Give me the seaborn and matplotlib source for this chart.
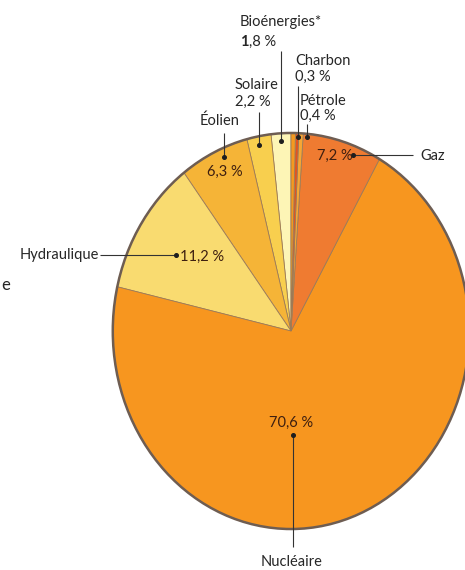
import matplotlib
matplotlib.use("Agg")
import matplotlib.pyplot as plt
from matplotlib.patches import Circle
import seaborn as sns

# Electricity production mix (%), counter-clockwise from 12 o'clock
sources = ["Bioénergies*", "Solaire", "Éolien", "Hydraulique", "Nucléaire",
           "Gaz", "Pétrole", "Charbon", ""]
shares = [1.8, 2.2, 6.3, 11.2, 70.6, 7.2, 0.4, 0.3, 0.4]
share_labels = ["1,8 %", "2,2 %", "6,3 %", "11,2 %", "70,6 %",
                "7,2 %", "0,4 %", "0,3 %", ""]
slice_colors = ["#FDF5B6", "#F8CF4E", "#F5B437", "#F9DB70", "#F7961F",
                "#EF7B31", "#F6A634", "#E4531F", "#F5991F"]

sns.set_theme(style="white")
plt.rcParams["font.family"] = ["Lato", "DejaVu Sans"]

W, H = 465, 570
fig = plt.figure(figsize=(W / 100, H / 100), dpi=100)
fig.patch.set_facecolor("white")

# Pie axes placed in pixel units (slightly taller than wide -> elliptical pie)
x0, x1, y0, y1 = 111, 471, 131, 531
pie_ax = fig.add_axes([x0 / W, 1 - y1 / H, (x1 - x0) / W, (y1 - y0) / H])
palette = sns.color_palette(slice_colors)
pie_ax.pie(shares, colors=palette, startangle=90, counterclock=True,
           radius=1.0,
           wedgeprops=dict(linewidth=0.6, edgecolor="#9c7b58"))
pie_ax.add_patch(Circle((0, 0), 1.0, fill=False, lw=1.8, ec="#6e5d52"))
pie_ax.set_aspect("auto")
pie_ax.set_xlim(-1.01, 1.01)
pie_ax.set_ylim(-1.01, 1.01)
pie_ax.axis("off")

# Annotation layer in pixel coordinates
ann = fig.add_axes([0, 0, 1, 1], zorder=5)
ann.set_xlim(0, W)
ann.set_ylim(H, 0)
ann.axis("off")
ann.patch.set_alpha(0)

out_col = "#262626"
in_col = "#3e1f10"
fs = 10.5
lc = "#333333"
txt = dict(fontsize=fs, va="center", ha="left")


def leader(xs, ys):
    ann.plot(xs, ys, color=lc, lw=0.8, solid_capstyle="butt")
    ann.plot(xs[-1], ys[-1], "o", color="#1e1e1e", ms=2.6)


def idx(name):
    return sources.index(name)


# Bioénergies (leading digit set in bold)
i = idx("Bioénergies*")
ann.text(240, 22, sources[i], color=out_col, **txt)
lead = ann.text(240, 42, share_labels[i][0], color=out_col,
                fontweight="bold", **txt)
fig.canvas.draw()
bb = lead.get_window_extent()
inv = ann.transData.inverted()
x_after = inv.transform((bb.x1, bb.y0))[0]
ann.text(x_after, 42, share_labels[i][1:], color=out_col, **txt)
leader([281, 281], [51, 141])

# Charbon
i = idx("Charbon")
ann.text(295, 61, sources[i], color=out_col, **txt)
ann.text(295, 77, share_labels[i], color=out_col, **txt)
leader([298, 298], [86, 137])

# Pétrole
i = idx("Pétrole")
ann.text(300, 101, sources[i], color=out_col, **txt)
ann.text(300, 116, share_labels[i], color=out_col, **txt)
leader([307, 307], [124, 137])

# Solaire
i = idx("Solaire")
ann.text(235, 85, sources[i], color=out_col, **txt)
ann.text(235, 102, share_labels[i], color=out_col, **txt)
leader([259, 259], [112, 145])

# Éolien
i = idx("Éolien")
ann.text(200, 121, sources[i], color=out_col, **txt)
leader([224, 224], [133, 157])
ann.text(207, 172, share_labels[i], color=in_col, **txt)

# Gaz
i = idx("Gaz")
ann.text(317, 156, share_labels[i], color=in_col, **txt)
leader([413, 353], [155, 155])
ann.text(420, 156, sources[i], color=out_col, **txt)

# Hydraulique
i = idx("Hydraulique")
ann.text(20, 255, sources[i], color=out_col, **txt)
leader([100, 176], [255, 255])
ann.text(180, 257, share_labels[i], color=in_col, **txt)

# Nucléaire
i = idx("Nucléaire")
ann.text(291, 423, share_labels[i], fontsize=fs, color=in_col,
         va="center", ha="center")
leader([293, 293], [547, 435])
ann.text(292, 562, sources[i], fontsize=fs, color=out_col,
         va="center", ha="center")

# clipped word fragment at the left margin
ann.text(10, 285, "e", fontsize=12, color=out_col, va="center", ha="right")

fig.savefig("out.png", dpi=100, facecolor="white")
